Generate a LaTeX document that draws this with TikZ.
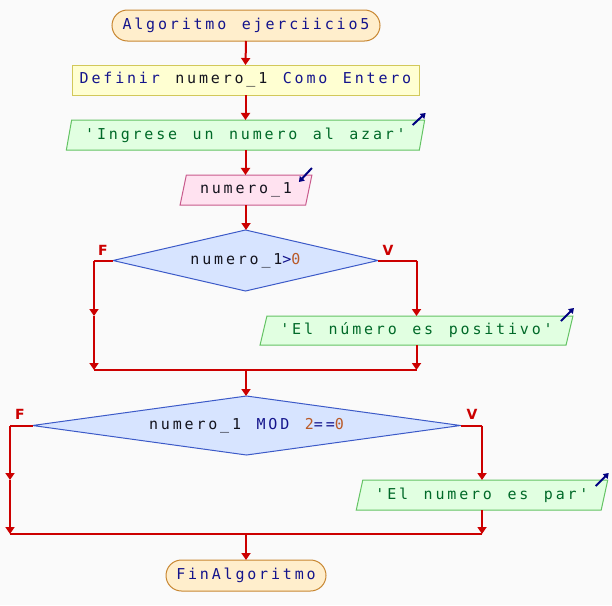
\documentclass[tikz,border=0pt]{standalone}
\usepackage{fontspec}
\usetikzlibrary{arrows.meta,shapes.geometric}
\newfontfamily\codefont[LetterSpace=18.8,WordSpace=1.31]{DejaVu Sans Mono}
\newfontfamily\flagfont{DejaVu Sans}
\definecolor{bg}{RGB}{250,250,250}
\definecolor{kw}{RGB}{20,20,140}
\definecolor{ident}{RGB}{20,20,30}
\definecolor{str}{RGB}{0,105,40}
\definecolor{num}{RGB}{185,90,40}
\definecolor{flowred}{RGB}{204,0,0}
\definecolor{iconblue}{RGB}{0,0,128}
\definecolor{termfill}{RGB}{255,238,204}
\definecolor{termline}{RGB}{200,135,50}
\definecolor{deffill}{RGB}{255,255,210}
\definecolor{defline}{RGB}{210,200,90}
\definecolor{outfill}{RGB}{225,255,225}
\definecolor{outline}{RGB}{100,195,100}
\definecolor{infill}{RGB}{255,226,240}
\definecolor{inline}{RGB}{200,90,140}
\definecolor{decfill}{RGB}{215,228,255}
\definecolor{decline}{RGB}{60,90,200}
\newcommand{\kw}[1]{{\color{kw}#1}}
\newcommand{\nm}[1]{{\color{num}#1}}
\begin{document}
\begin{tikzpicture}[x=1pt,y=-1pt,
  box/.style={inner sep=0pt,outer sep=0pt,line width=1pt,text=ident,
    font=\codefont\fontsize{15pt}{17pt}\selectfont},
  term/.style={box,rectangle,rounded corners=15.5pt,draw=termline,fill=termfill,
    minimum height=31pt},
  defbox/.style={box,rectangle,draw=defline,fill=deffill,minimum height=30pt},
  para/.style={box,trapezium,trapezium stretches=true,
    trapezium left angle=#1,trapezium right angle={180-#1}},
  outbox/.style={para=#1,draw=outline,fill=outfill,text=str},
  inbox/.style={para=#1,draw=inline,fill=infill},
  decbox/.style={box,diamond,draw=decline,fill=decfill},
  flow/.style={draw=flowred,line width=2pt,-{Triangle[width=9pt,length=7pt]}},
  wire/.style={draw=flowred,line width=2pt},
  flag/.style={text=flowred,font=\flagfont\bfseries\fontsize{14pt}{16pt}\selectfont,inner sep=0pt},
  icon/.style={draw=iconblue,line width=2pt,-{Triangle[width=6.5pt,length=5pt]}}
]
\fill[bg] (0,0) rectangle (612,605);
\useasboundingbox (0,0) rectangle (612,605);

% blocks
\node[term,minimum width=268pt] (start) at (246,25.5) {\kw{Algoritmo ejerciicio5}};
\node[defbox,minimum width=347pt] (def) at (245.5,80) {\kw{Definir} numero\_1 \kw{Como Entero}};
\node[outbox=71.6,minimum width=359pt,minimum height=30pt] (out1) at (245.5,135)
  {'Ingrese un numero al azar'};
\node[inbox=71.6,minimum width=132pt,minimum height=30pt] (in1) at (246,190) {numero\_1};
\node[decbox,aspect=4.3,minimum width=265pt,minimum height=61pt] (d1) at (245.5,260.5)
  {numero\_1\kw{>}\nm{0}};
\node[outbox=67.5,minimum width=313pt,minimum height=29pt] (out2) at (416.5,330.5)
  {'El número es positivo'};
\node[decbox,aspect=7.2,minimum width=428pt,minimum height=59pt] (d2) at (246.5,425.5)
  {numero\_1 \kw{MOD} \nm{2}\kw{==}\nm{0}};
\node[outbox=68.2,minimum width=252pt,minimum height=30pt] (out3) at (482,495)
  {'El numero es par'};
\node[term,minimum width=160pt] (end) at (246,575.5) {\kw{FinAlgoritmo}};

% branch corners and junctions
\coordinate (f1) at (94,260.5);
\coordinate (v1) at (416.5,260.5);
\coordinate (j1) at (246,370);
\coordinate (f2) at (10,425.5);
\coordinate (v2) at (482,425.5);
\coordinate (j2) at (246,534);

% main line
\draw[flow] (start.south) -- (def.north);
\draw[flow] (def.south) -- (def.south |- out1.north);
\draw[flow] (def.south |- out1.south) -- (def.south |- in1.north);
\draw[flow] (in1.south) -- (in1.south |- d1.north);

% first decision
\draw[wire] (d1.west) -- (f1);
\draw[flow] (f1) -- (f1 |- out2.north);
\draw[flow] (f1 |- out2.north) -- (f1 |- j1);
\draw[wire] (d1.east) -- (v1);
\draw[flow] (v1) -- (v1 |- out2.north);
\draw[flow] (v1 |- out2.south) -- (v1 |- j1);
\draw[wire] (f1 |- j1) -- (v1 |- j1);
\draw[flow] (j1) -- (j1 |- d2.north);
\node[flag] (fl1) at (103,250) {F};
\node[flag] (vl1) at (388,250) {V};

% second decision
\draw[wire] (d2.west) -- (f2);
\draw[flow] (f2) -- (f2 |- out3.north);
\draw[flow] (f2 |- out3.north) -- (f2 |- j2);
\draw[wire] (d2.east) -- (v2);
\draw[flow] (v2) -- (v2 |- out3.north);
\draw[flow] (v2 |- out3.south) -- (v2 |- j2);
\draw[wire] (f2 |- j2) -- (v2 |- j2);
\draw[flow] (j2) -- (end.north);
\node[flag] (fl2) at (20,414) {F};
\node[flag] (vl2) at (472,414) {V};

% input/output markers
\draw[icon] ([shift={(-12,5)}]out1.top right corner) -- ([shift={(1,-7)}]out1.top right corner);
\draw[icon] ([shift={(-12,5)}]out2.top right corner) -- ([shift={(1,-8)}]out2.top right corner);
\draw[icon] ([shift={(-12,6)}]out3.top right corner) -- ([shift={(1,-7)}]out3.top right corner);
\draw[icon] ([shift={(0,-7)}]in1.top right corner) -- ([shift={(-13,7)}]in1.top right corner);
\end{tikzpicture}
\end{document}
